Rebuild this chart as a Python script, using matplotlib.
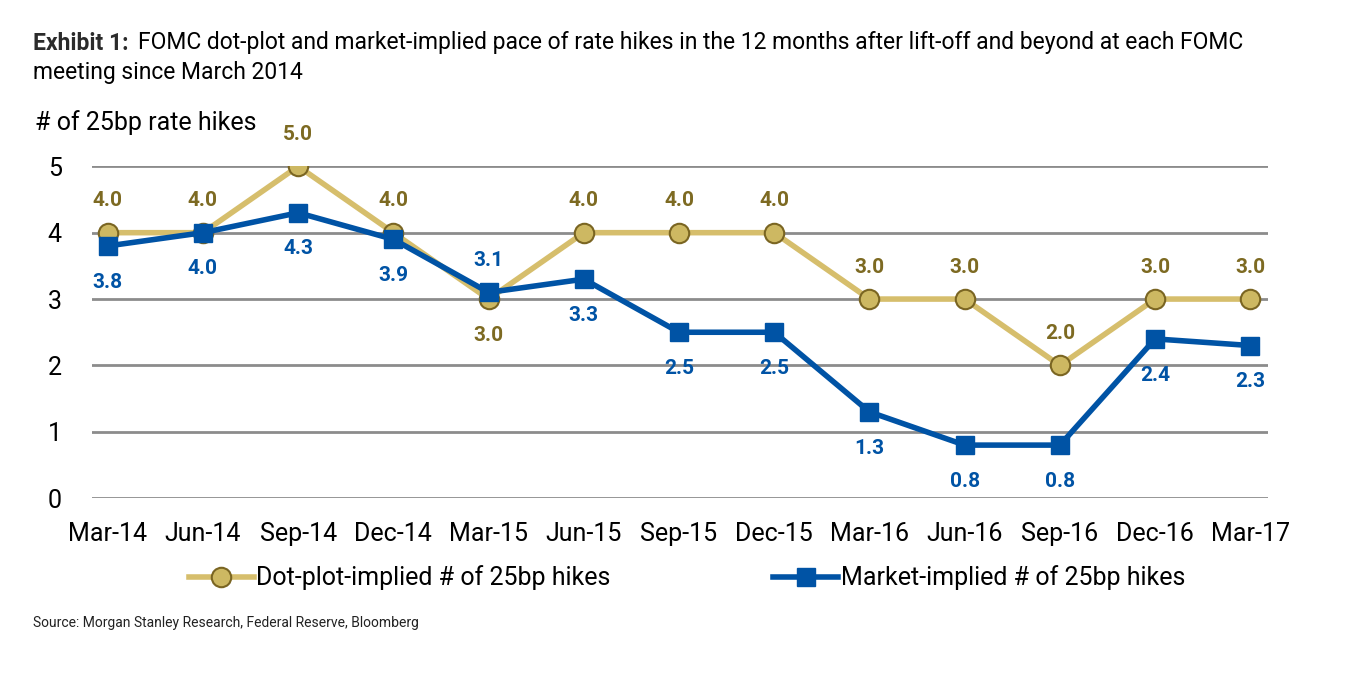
import matplotlib
matplotlib.use("Agg")
import matplotlib.pyplot as plt
from matplotlib.lines import Line2D

plt.rcParams['font.family'] = ['Liberation Sans Narrow', 'Roboto', 'DejaVu Sans']

# ---- data ----
meetings = ["Mar-14", "Jun-14", "Sep-14", "Dec-14", "Mar-15", "Jun-15", "Sep-15",
            "Dec-15", "Mar-16", "Jun-16", "Sep-16", "Dec-16", "Mar-17"]
dot_plot = [4.0, 4.0, 5.0, 4.0, 3.0, 4.0, 4.0, 4.0, 3.0, 3.0, 2.0, 3.0, 3.0]
market = [3.8, 4.0, 4.3, 3.9, 3.1, 3.3, 2.5, 2.5, 1.3, 0.8, 0.8, 2.4, 2.3]
# which labels go on the "other" side
dot_below = ["Mar-15"]
mkt_above = ["Mar-15"]

GOLD = "#D6BE6C"
GOLD_FACE = "#CDB862"
GOLD_EDGE = "#7A6522"
GOLD_TXT = "#7D6A22"
BLUE = "#0053A5"
GRID = "#8C8C8C"

fig = plt.figure(figsize=(13.6, 6.76), dpi=100)
ax = fig.add_axes([0.068, 0.263, 0.864, 0.491])

x = list(range(len(meetings)))
ax.plot(x, dot_plot, color=GOLD, lw=4, marker="o", ms=14,
        mfc=GOLD_FACE, mec=GOLD_EDGE, mew=1.5, zorder=3)
ax.plot(x, market, color=BLUE, lw=4, marker="s", ms=13,
        mfc=BLUE, mec=BLUE, zorder=4)

for i, (m, d, v) in enumerate(zip(meetings, dot_plot, market)):
    off = -26 if m in dot_below else 23
    ax.annotate(f"{d:.1f}", (i, d), xytext=(0, off), textcoords="offset points",
                ha="center", va="center", fontsize=15, fontweight="bold",
                color=GOLD_TXT, annotation_clip=False)
    off = 23 if m in mkt_above else -26
    ax.annotate(f"{v:.1f}", (i, v), xytext=(0, off), textcoords="offset points",
                ha="center", va="center", fontsize=15, fontweight="bold",
                color=BLUE, annotation_clip=False)

ax.set_xlim(-0.16, 12.18)
ax.set_ylim(0, 5)
ax.set_yticks(range(6))
ax.set_xticks(x)
ax.set_xticklabels(meetings)
ax.tick_params(length=0, labelsize=18)
ax.tick_params(axis="x", pad=17)
ax.tick_params(axis="y", pad=22)
ax.grid(axis="y", color=GRID, lw=2)
ax.set_axisbelow(True)
for s in ax.spines.values():
    s.set_visible(False)

# title
fig.canvas.draw()
r = fig.canvas.get_renderer()
t1 = fig.text(33 / 1360, 1 - 43 / 676, "Exhibit 1:", fontsize=16.5, fontweight="bold",
              color="#2B2B2B", va="center")
bb = t1.get_window_extent(r)
fig.text((bb.x1 + 10) / 1360, 1 - 43 / 676,
         "FOMC dot-plot and market-implied pace of rate hikes in the 12 months after lift-off and beyond at each FOMC",
         fontsize=16.5, va="center")
fig.text(33 / 1360, 1 - 72 / 676, "meeting since March 2014", fontsize=16.5, va="center")
fig.text(35 / 1360, 1 - 123 / 676, "# of 25bp rate hikes", fontsize=18, va="center")

handles = [
    Line2D([], [], color=GOLD, lw=4, marker="o", ms=14, mfc=GOLD_FACE, mec=GOLD_EDGE, mew=1.5),
    Line2D([], [], color=BLUE, lw=4, marker="s", ms=13, mfc=BLUE, mec=BLUE),
]
fig.legend(handles, ["Dot-plot-implied # of 25bp hikes", "Market-implied # of 25bp hikes"],
           loc="center", bbox_to_anchor=(0.505, 1 - 578 / 676), ncol=2, frameon=False,
           fontsize=18, handlelength=2.6, handletextpad=0.1, columnspacing=6.5)

fig.text(33 / 1360, 1 - 623 / 676, "Source: Morgan Stanley Research, Federal Reserve, Bloomberg",
         fontsize=10, va="center", color="#222222")

fig.savefig("out.png", dpi=100)
